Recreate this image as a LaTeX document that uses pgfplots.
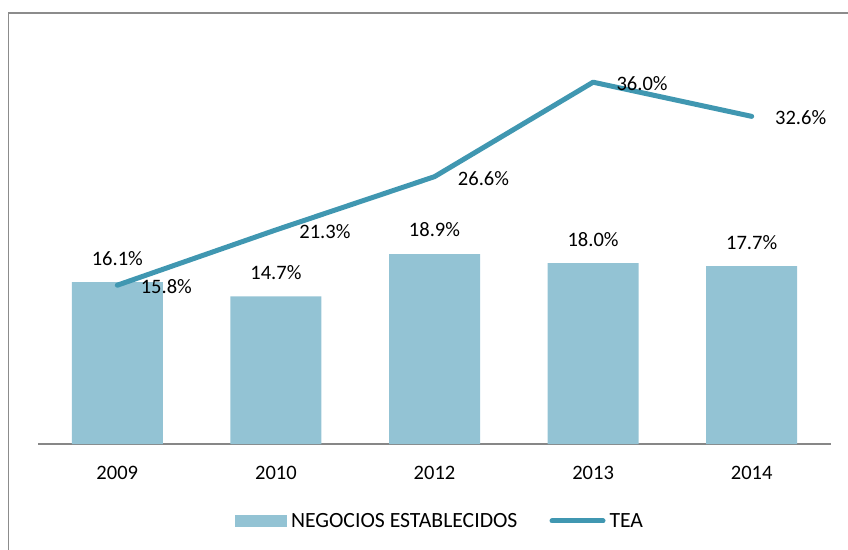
\documentclass[border=0pt]{standalone}
\usepackage{fontspec}
\setmainfont{Carlito}
\usepackage{pgfplots}
\pgfplotsset{compat=1.18}
\definecolor{barblue}{HTML}{93C3D4}
\definecolor{lineblue}{HTML}{4097B1}
\definecolor{framegray}{HTML}{8C8C8C}
\definecolor{axisgray}{HTML}{878787}
\begin{document}
\begin{tikzpicture}[font=\fontsize{20.6}{24}\selectfont]
\useasboundingbox (-38bp,-106bp) rectangle (810bp,444bp);
% chart frame (cut off at right and bottom)
\draw[framegray, line width=1.2bp] (-29.5bp,-112bp) -- (-29.5bp,431bp) -- (815bp,431bp);
\begin{axis}[
    at={(0,0)}, anchor=south west,
    x=158.6bp, y=10.05bp,
    xmin=-0.5, xmax=4.5, ymin=0, ymax=40,
    clip=false,
    axis x line=bottom, axis y line=none,
    x axis line style={-, draw=axisgray, line width=1.5bp},
    xtick={0,1,2,3,4},
    xticklabels={2009,2010,2012,2013,2014},
    major tick length=0pt,
    ytick=\empty,
    xticklabel style={anchor=base, yshift=-35bp},
    legend columns=2,
    legend style={at={(0.5057,-0.1915)}, anchor=center, draw=none, fill=none,
        column sep=4bp, nodes={inner sep=0pt},
        font=\fontsize{21.8}{24}\selectfont,
        /tikz/every even column/.append style={column sep=32bp}},
]
% NEGOCIOS ESTABLECIDOS
\addplot[ybar, bar width=91bp, fill=barblue, draw=none,
    point meta=explicit symbolic, nodes near coords,
    every node near coord/.append style={anchor=center, yshift=24bp, text=black},
    legend image code/.code={\fill[barblue] (0bp,-6bp) rectangle (52bp,6bp);}]
coordinates {(0,16.1)[16.1\%] (1,14.7)[14.7\%] (2,18.9)[18.9\%] (3,18.0)[18.0\%] (4,17.7)[17.7\%]};
% TEA
\addplot[lineblue, line width=5bp, line join=round, line cap=round, mark=none,
    point meta=explicit symbolic, nodes near coords,
    every node near coord/.append style={anchor=center, xshift=49bp, yshift=-1.5bp, text=black},
    legend image code/.code={\draw[lineblue, line width=5bp, line cap=round] (2.5bp,0bp) -- (53.5bp,0bp);}]
coordinates {(0,15.8)[15.8\%] (1,21.3)[21.3\%] (2,26.6)[26.6\%] (3,36.0)[36.0\%] (4,32.6)[32.6\%]};
\legend{NEGOCIOS ESTABLECIDOS, TEA}
\end{axis}
\end{tikzpicture}
\end{document}
